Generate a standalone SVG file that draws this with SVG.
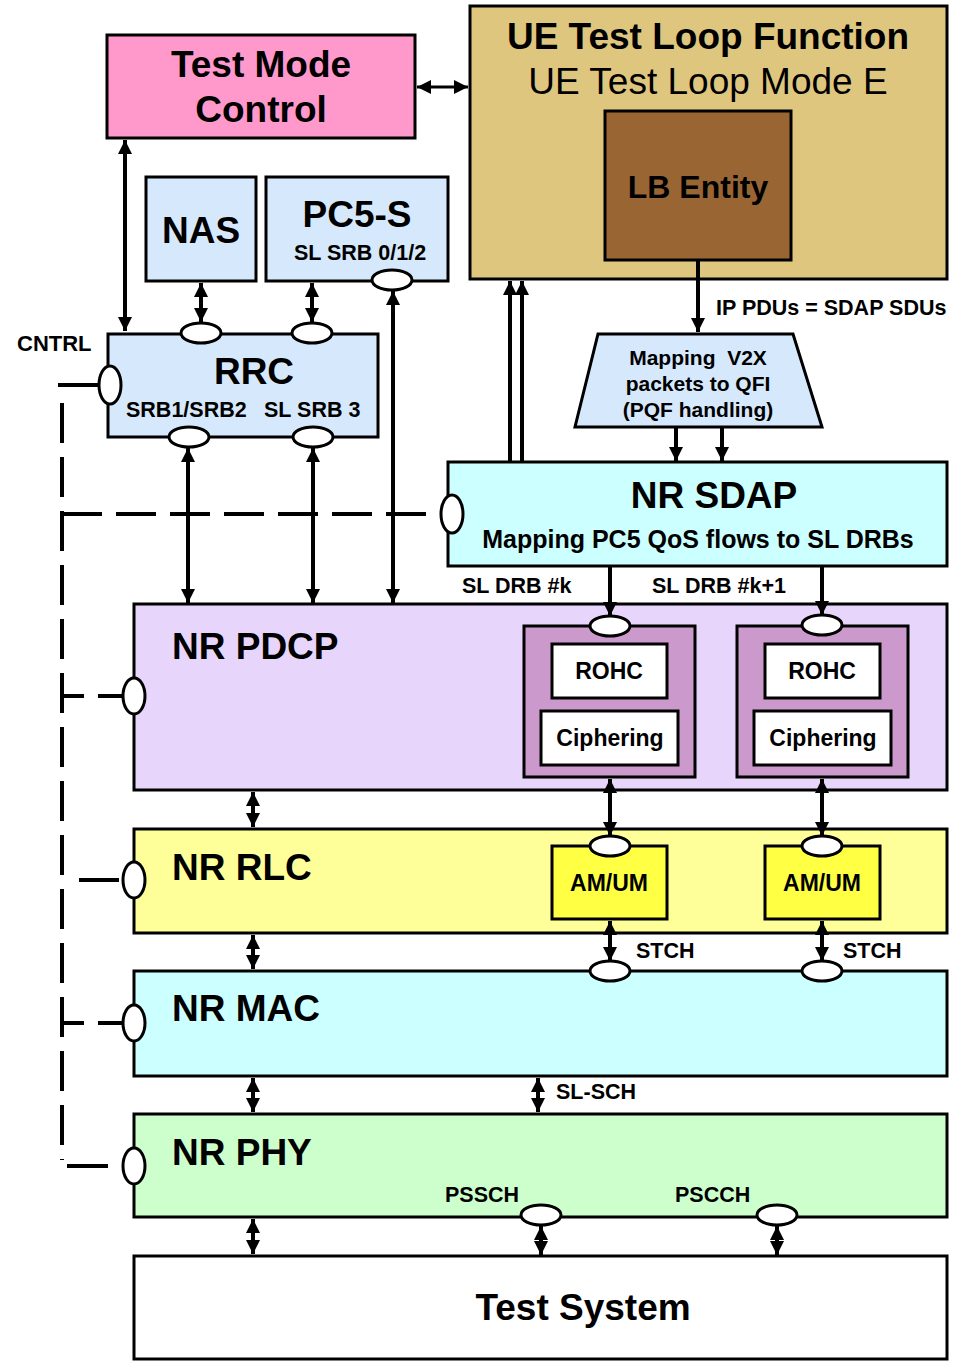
<svg xmlns="http://www.w3.org/2000/svg" width="967" height="1361" viewBox="0 0 967 1361">
<style>
text{font-family:"Liberation Sans",Arial,sans-serif;font-weight:bold;fill:#000}
.box{stroke:#000;stroke-width:3}
.big{font-size:37px}
.sm{font-size:21.5px}
.mid{font-size:23px}
.c{text-anchor:middle}
.ln{stroke:#000;stroke-width:4;fill:none}
.dash{stroke:#000;stroke-width:4;fill:none;stroke-dasharray:40 14}
.port{fill:#fff;stroke:#000;stroke-width:3}
</style>
<defs>
<marker id="ah" viewBox="0 0 14 14" refX="14" refY="7" markerWidth="14" markerHeight="14" markerUnits="userSpaceOnUse" orient="auto-start-reverse"><path d="M0,0 L14,7 L0,14 z" fill="#000"/></marker>
</defs>
<rect width="967" height="1361" fill="#fff"/>

<g id="test-mode-control">
<rect class="box" x="107" y="35" width="308" height="103" fill="#ff99cc"/>
<text class="big c" x="261" y="77">Test Mode</text>
<text class="big c" x="261" y="122">Control</text>
</g>

<g id="ue-test-loop">
<rect class="box" x="470" y="6" width="477" height="273" fill="#dfc67f"/>
<text class="big c" x="708" y="49">UE Test Loop Function</text>
<text class="big c" x="708" y="94" style="font-weight:normal">UE Test Loop Mode E</text>
</g>

<g id="lb-entity">
<rect class="box" x="605" y="111" width="186" height="149" fill="#996633"/>
<text class="c" x="698" y="198" style="font-size:32px">LB Entity</text>
</g>

<g id="nas">
<rect class="box" x="146" y="177" width="110" height="104" fill="#d6e9fc"/>
<text class="big c" x="201" y="243">NAS</text>
</g>

<g id="pc5s">
<rect class="box" x="266" y="177" width="182" height="104" fill="#d6e9fc"/>
<text class="big c" x="357" y="227">PC5-S</text>
<text class="sm c" x="360" y="260">SL SRB 0/1/2</text>
</g>

<g id="rrc">
<rect class="box" x="108" y="334" width="270" height="103" fill="#d6e9fc"/>
<text class="big c" x="254" y="384">RRC</text>
<text class="sm" x="126" y="417">SRB1/SRB2</text>
<text class="sm" x="264" y="417">SL SRB 3</text>
</g>

<g id="cntrl-label">
<text class="sm" x="17" y="351" style="font-size:22px">CNTRL</text>
</g>

<g id="mapping">
<polygon class="box" points="598,334 793,334 822,427 575,427" fill="#d6e9fc"/>
<text class="sm c" x="698" y="365" style="font-size:21px" xml:space="preserve">Mapping  V2X</text>
<text class="sm c" x="698" y="391" style="font-size:21px">packets to QFI</text>
<text class="sm c" x="698" y="417" style="font-size:21px">(PQF handling)</text>
</g>

<g id="ip-label">
<text class="sm" x="716" y="315">IP PDUs = SDAP SDUs</text>
</g>

<g id="nr-sdap">
<rect class="box" x="448" y="462" width="499" height="104" fill="#ccffff"/>
<text class="big c" x="714" y="508">NR SDAP</text>
<text class="c" x="698" y="548" style="font-size:25px">Mapping PC5 QoS flows to SL DRBs</text>
</g>

<g id="drb-labels">
<text class="sm" x="462" y="593">SL DRB #k</text>
<text class="sm" x="652" y="593">SL DRB #k+1</text>
</g>

<g id="nr-pdcp">
<rect class="box" x="134" y="604" width="813" height="186" fill="#e8d5fc"/>
<text class="big" x="172" y="659">NR PDCP</text>
</g>

<g id="pdcp-entity-1">
<rect class="box" x="524" y="626" width="171" height="151" fill="#cc99cc"/>
<rect class="box" x="552" y="644" width="115" height="54" fill="#fff"/>
<text class="mid c" x="609" y="679">ROHC</text>
<rect class="box" x="541" y="711" width="137" height="54" fill="#fff"/>
<text class="mid c" x="610" y="746">Ciphering</text>
</g>

<g id="pdcp-entity-2">
<rect class="box" x="737" y="626" width="171" height="151" fill="#cc99cc"/>
<rect class="box" x="765" y="644" width="115" height="54" fill="#fff"/>
<text class="mid c" x="822" y="679">ROHC</text>
<rect class="box" x="754" y="711" width="137" height="54" fill="#fff"/>
<text class="mid c" x="823" y="746">Ciphering</text>
</g>

<g id="nr-rlc">
<rect class="box" x="134" y="829" width="813" height="104" fill="#ffff99"/>
<text class="big" x="172" y="880">NR RLC</text>
</g>

<g id="rlc-entity-1">
<rect class="box" x="552" y="846" width="115" height="73" fill="#ffff44"/>
<text class="mid c" x="609" y="891">AM/UM</text>
</g>

<g id="rlc-entity-2">
<rect class="box" x="765" y="846" width="115" height="73" fill="#ffff44"/>
<text class="mid c" x="822" y="891">AM/UM</text>
</g>

<g id="stch-labels">
<text class="sm" x="636" y="958">STCH</text>
<text class="sm" x="843" y="958">STCH</text>
</g>

<g id="nr-mac">
<rect class="box" x="134" y="971" width="813" height="105" fill="#ccffff"/>
<text class="big" x="172" y="1021">NR MAC</text>
</g>

<g id="slsch-label">
<text class="sm" x="556" y="1099">SL-SCH</text>
</g>

<g id="nr-phy">
<rect class="box" x="134" y="1114" width="813" height="103" fill="#ccffcc"/>
<text class="big" x="172" y="1165">NR PHY</text>
<text class="sm" x="445" y="1202">PSSCH</text>
<text class="sm" x="675" y="1202">PSCCH</text>
</g>

<g id="test-system">
<rect class="box" x="134" y="1256" width="813" height="103" fill="#fff"/>
<text class="big c" x="583" y="1320">Test System</text>
</g>

<g id="connectors">
<line class="ln" style="stroke-width:3" x1="417" y1="87" x2="468" y2="87" marker-start="url(#ah)" marker-end="url(#ah)"/>
<line class="ln" x1="125" y1="140" x2="125" y2="331" marker-start="url(#ah)" marker-end="url(#ah)"/>
<line class="ln" x1="201" y1="283" x2="201" y2="322" marker-start="url(#ah)" marker-end="url(#ah)"/>
<line class="ln" x1="312" y1="283" x2="312" y2="322" marker-start="url(#ah)" marker-end="url(#ah)"/>
<line class="ln" x1="393" y1="291" x2="393" y2="603" marker-start="url(#ah)" marker-end="url(#ah)"/>
<line class="ln" x1="188" y1="448" x2="188" y2="603" marker-start="url(#ah)" marker-end="url(#ah)"/>
<line class="ln" x1="313" y1="448" x2="313" y2="603" marker-start="url(#ah)" marker-end="url(#ah)"/>
<line class="ln" x1="698" y1="261" x2="698" y2="332" marker-end="url(#ah)"/>
<line class="ln" x1="676" y1="428" x2="676" y2="461" marker-end="url(#ah)"/>
<line class="ln" x1="722" y1="428" x2="722" y2="461" marker-end="url(#ah)"/>
<line class="ln" x1="510" y1="461" x2="510" y2="281" marker-end="url(#ah)"/>
<line class="ln" x1="522" y1="461" x2="522" y2="281" marker-end="url(#ah)"/>
<line class="ln" x1="610" y1="567" x2="610" y2="616" marker-end="url(#ah)"/>
<line class="ln" x1="822" y1="567" x2="822" y2="615" marker-end="url(#ah)"/>
<line class="ln" x1="610" y1="779" x2="610" y2="836" marker-start="url(#ah)" marker-end="url(#ah)"/>
<line class="ln" x1="822" y1="779" x2="822" y2="836" marker-start="url(#ah)" marker-end="url(#ah)"/>
<line class="ln" x1="610" y1="921" x2="610" y2="961" marker-start="url(#ah)" marker-end="url(#ah)"/>
<line class="ln" x1="822" y1="921" x2="822" y2="961" marker-start="url(#ah)" marker-end="url(#ah)"/>
<line class="ln" x1="253" y1="792" x2="253" y2="827" marker-start="url(#ah)" marker-end="url(#ah)"/>
<line class="ln" x1="253" y1="935" x2="253" y2="969" marker-start="url(#ah)" marker-end="url(#ah)"/>
<line class="ln" x1="253" y1="1078" x2="253" y2="1112" marker-start="url(#ah)" marker-end="url(#ah)"/>
<line class="ln" x1="253" y1="1219" x2="253" y2="1254" marker-start="url(#ah)" marker-end="url(#ah)"/>
<line class="ln" x1="538" y1="1078" x2="538" y2="1112" marker-start="url(#ah)" marker-end="url(#ah)"/>
<line class="ln" x1="541" y1="1226" x2="541" y2="1255" marker-start="url(#ah)" marker-end="url(#ah)"/>
<line class="ln" x1="777" y1="1226" x2="777" y2="1255" marker-start="url(#ah)" marker-end="url(#ah)"/>
<line class="ln" x1="58" y1="385" x2="99" y2="385"/>
<path class="dash" d="M62,403 V1160"/>
<line class="ln" x1="67" y1="1166" x2="108" y2="1166"/>
<line class="dash" x1="62" y1="514" x2="441" y2="514"/>
<line class="dash" x1="62" y1="696" x2="123" y2="696" style="stroke-dasharray:22 14 40"/>
<line class="ln" x1="79" y1="880" x2="119" y2="880"/>
<line class="dash" x1="62" y1="1023" x2="123" y2="1023" style="stroke-dasharray:22 14 40"/>
</g>

<g id="ports">
<ellipse class="port" cx="392" cy="280" rx="20" ry="10"/>
<ellipse class="port" cx="201" cy="333" rx="20" ry="10"/>
<ellipse class="port" cx="312" cy="333" rx="20" ry="10"/>
<ellipse class="port" cx="189" cy="437" rx="20" ry="10"/>
<ellipse class="port" cx="313" cy="437" rx="20" ry="10"/>
<ellipse class="port" cx="110" cy="385" rx="11" ry="19"/>
<ellipse class="port" cx="452" cy="514" rx="11" ry="19"/>
<ellipse class="port" cx="610" cy="626" rx="20" ry="10"/>
<ellipse class="port" cx="822" cy="625" rx="20" ry="10"/>
<ellipse class="port" cx="134" cy="696" rx="11" ry="18"/>
<ellipse class="port" cx="610" cy="846" rx="20" ry="10"/>
<ellipse class="port" cx="822" cy="846" rx="20" ry="10"/>
<ellipse class="port" cx="134" cy="880" rx="11" ry="18"/>
<ellipse class="port" cx="610" cy="971" rx="20" ry="10"/>
<ellipse class="port" cx="822" cy="971" rx="20" ry="10"/>
<ellipse class="port" cx="134" cy="1023" rx="11" ry="18"/>
<ellipse class="port" cx="134" cy="1166" rx="11" ry="18"/>
<ellipse class="port" cx="541" cy="1215" rx="20" ry="10"/>
<ellipse class="port" cx="777" cy="1215" rx="20" ry="10"/>
</g>
</svg>
